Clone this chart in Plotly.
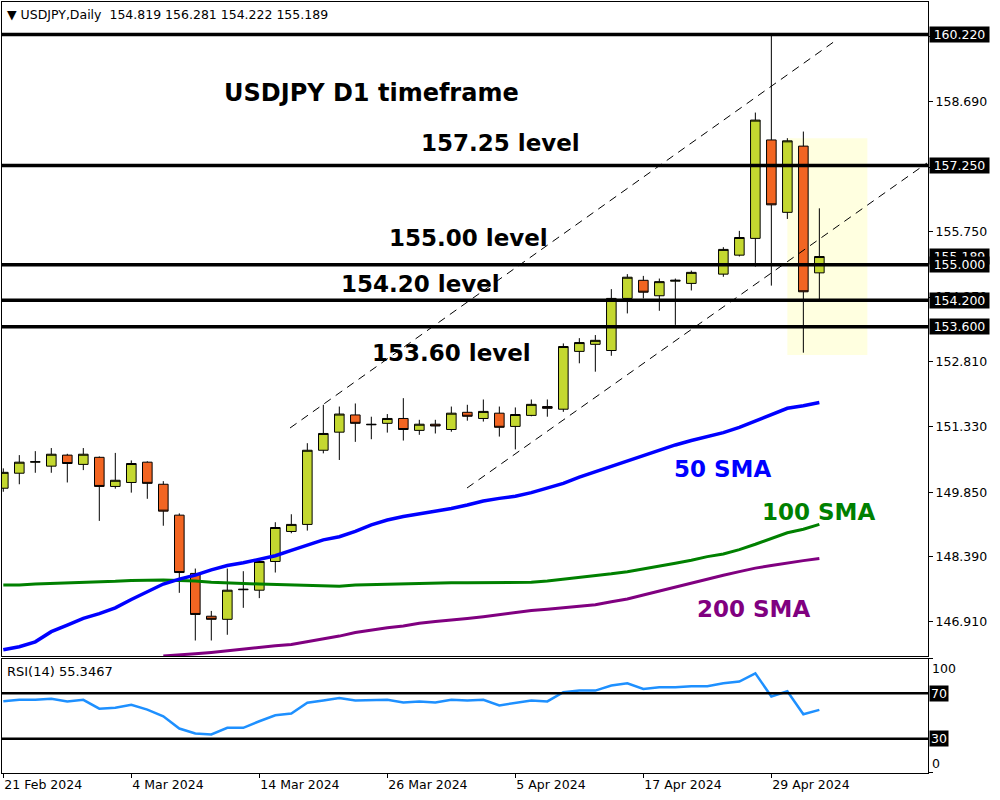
import datetime as dt
import plotly.graph_objects as go

# ---- daily bars (USDJPY) ----
dates = [
    "2024-02-21", "2024-02-22", "2024-02-23", "2024-02-26", "2024-02-27", "2024-02-28",
    "2024-02-29", "2024-03-01", "2024-03-04", "2024-03-05", "2024-03-06", "2024-03-07",
    "2024-03-08", "2024-03-11", "2024-03-12", "2024-03-13", "2024-03-14", "2024-03-15",
    "2024-03-18", "2024-03-19", "2024-03-20", "2024-03-21", "2024-03-22", "2024-03-25",
    "2024-03-26", "2024-03-27", "2024-03-28", "2024-03-29", "2024-04-01", "2024-04-02",
    "2024-04-03", "2024-04-04", "2024-04-05", "2024-04-08", "2024-04-09", "2024-04-10",
    "2024-04-11", "2024-04-12", "2024-04-15", "2024-04-16", "2024-04-17", "2024-04-18",
    "2024-04-19", "2024-04-22", "2024-04-23", "2024-04-24", "2024-04-25", "2024-04-26",
    "2024-04-29", "2024-04-30", "2024-05-01", "2024-05-02",
]
opens = [149.94, 150.28, 150.53, 150.44, 150.69, 150.48, 150.64, 149.98, 150.07, 150.53,
         150.03, 149.33, 148.01, 147.04, 146.97, 147.64, 147.63, 148.28, 148.96, 149.12,
         150.80, 151.21, 151.60, 151.39, 151.41, 151.52, 151.25, 151.39, 151.27, 151.66,
         151.52, 151.64, 151.34, 151.59, 151.79, 151.73, 153.04, 153.20, 153.06, 154.24,
         154.65, 154.30, 154.63, 154.58, None, 154.79, 155.22, 155.60, 157.83, 156.19,
         157.69, 154.819]
highs = [150.39, 150.69, 150.78, 150.85, 150.72, 150.85, 150.66, 150.74, 150.57, 150.55,
         150.10, 149.37, 148.12, 147.16, 148.12, 148.06, 148.35, 149.17, 149.35, 150.96,
         151.83, 151.79, 151.86, 151.56, 151.62, 151.98, 151.49, 151.49, 151.79, 151.83,
         151.95, 151.79, 151.77, 151.95, 151.95, 153.22, 153.34, 153.41, 154.45, 154.79,
         154.75, 154.69, 154.69, 154.87, None, 155.40, 155.77, 158.45, 160.22, 157.87,
         158.02, 156.281]
lows = [149.86, 150.03, 150.29, 150.29, 150.07, 150.35, 149.20, 149.93, 149.84, 149.70,
        149.09, 147.57, 146.49, 146.49, 146.62, 147.23, 147.45, 148.03, 148.92, 148.98,
        150.73, 150.58, 150.99, 151.05, 151.20, 151.02, 151.15, 151.18, 151.22, 151.47,
        151.45, 151.11, 150.82, 151.57, 151.56, 151.67, 152.77, 152.58, 152.94, 153.90,
        154.24, 153.96, 153.64, 154.42, None, 154.73, 155.19, 154.96, 154.53, 156.04,
        153.01, 154.222]
closes = [150.30, 150.53, 150.54, 150.71, 150.50, 150.71, 149.98, 150.12, 150.50, 150.05,
          149.42, 148.03, 147.08, 146.97, 147.63, 147.65, 148.28, 149.05, 149.12, 150.80,
          151.18, 151.62, 151.41, 151.38, 151.52, 151.27, 151.39, 151.35, 151.64, 151.57,
          151.68, 151.32, 151.61, 151.84, 151.75, 153.15, 153.24, 153.29, 154.24, 154.72,
          154.38, 154.62, 154.65, 154.83, None, 155.35, 155.62, 158.28, 156.36, 157.81,
          154.39, 155.189]

# ---- moving averages ----
sma50 = [146.28, 146.35, 146.46, 146.69, 146.84, 146.99, 147.10, 147.23, 147.42, 147.60,
         147.77, 147.88, 147.97, 148.09, 148.19, 148.25, 148.33, 148.41, 148.53, 148.65,
         148.77, 148.84, 148.96, 149.11, 149.22, 149.30, 149.36, 149.41, 149.48, 149.56,
         149.65, 149.71, 149.76, 149.84, 149.94, 150.05, 150.19, 150.31, 150.43, 150.56,
         150.69, 150.81, 150.92, 151.02, 151.11, 151.20, 151.32, 151.47, 151.62, 151.75,
         151.81, 151.88]
sma100 = [147.75, 147.75, 147.77, 147.78, 147.80, 147.80, 147.82, 147.83, 147.85, 147.86,
          147.86, 147.85, 147.84, 147.81, 147.79, 147.78, 147.77, 147.76, 147.75, 147.74,
          147.72, 147.72, 147.75, 147.76, 147.77, 147.78, 147.78, 147.80, 147.80, 147.80,
          147.80, 147.80, 147.80, 147.81, 147.84, 147.88, 147.91, 147.96, 148.00, 148.05,
          148.11, 148.18, 148.24, 148.31, 148.39, 148.45, 148.55, 148.67, 148.80, 148.93,
          149.01, 149.12]
sma200 = [None, None, None, None, None, None, None, None, None, None,
          146.14, 146.16, 146.19, 146.22, 146.26, 146.29, 146.33, 146.37, 146.40, 146.46,
          146.53, 146.59, 146.67, 146.73, 146.78, 146.82, 146.88, 146.92, 146.95, 146.99,
          147.03, 147.08, 147.13, 147.17, 147.20, 147.23, 147.27, 147.30, 147.37, 147.43,
          147.52, 147.61, 147.71, 147.80, 147.88, 147.97, 148.05, 148.13, 148.19, 148.25,
          148.30, 148.35]

# ---- RSI(14) ----
rsi14 = [63.0, 64.2, 64.2, 65.1, 62.8, 64.2, 56.4, 57.3, 59.9, 55.6,
         49.7, 39.0, 34.7, 33.8, 39.6, 39.6, 45.4, 50.6, 52.1, 61.6,
         63.6, 65.7, 63.6, 63.6, 64.2, 61.9, 62.8, 61.9, 64.2, 63.6,
         64.2, 59.3, 61.6, 63.6, 62.8, 70.9, 72.3, 72.3, 76.7, 78.7,
         73.8, 75.2, 75.2, 76.1, 76.1, 78.7, 80.2, 87.4, 67.1, 71.7,
         51.5, 55.3467]
rsi_levels = [70, 30]
rsi_scale_labels = [100, 0]

# ---- drawn objects ----
key_levels = [160.22, 157.25, 155.00, 154.20, 153.60]
price_ticks = [146.91, 148.39, 149.85, 151.33, 152.81, 154.27, 155.75, 157.21, 158.69, 160.17]
channel_upper = [(17.92, 151.305), (51.98, 160.072)]   # (bar, price)
channel_lower = [(28.98, 149.945), (57.73, 157.308)]
zone_bars = (49, 54)
zone_prices = (152.96, 157.87)

# text objects: (text, bar, price, colour, size)
chart_texts = [
    ("USDJPY D1 timeframe", 13.67, 158.898, "#000000", 24),
    ("157.25 level", 25.96, 157.766, "#000000", 23),
    ("155.00 level", 23.98, 155.616, "#000000", 23),
    ("154.20 level", 20.96, 154.562, "#000000", 23),
    ("153.60 level", 22.94, 152.997, "#000000", 23),
    ("50 SMA", 41.79, 150.382, "#0000FF", 23),
    ("100 SMA", 47.31, 149.408, "#008000", 23),
    ("200 SMA", 43.25, 147.211, "#800080", 23),
]

BULL = "#C4D830"
BEAR = "#F26522"
SMALL = dict(family="DejaVu Sans", size=12.5, color="black")

bars = list(range(len(dates)))
tick_step = 8
tick_bars = bars[::tick_step]
tick_labels = [dt.date.fromisoformat(dates[i]).strftime("%-d %b %Y") for i in tick_bars]

x_range = [-0.081, 57.79]

fig = go.Figure()

fig.add_trace(go.Candlestick(
    x=bars, open=opens, high=highs, low=lows, close=closes,
    increasing=dict(fillcolor=BULL, line=dict(color="black", width=1)),
    decreasing=dict(fillcolor=BEAR, line=dict(color="black", width=1)),
    whiskerwidth=0, showlegend=False, hoverinfo="skip",
    xaxis="x", yaxis="y",
))

for vals, col, w in [(sma100, "#008000", 3), (sma200, "#800080", 3), (sma50, "#0000FF", 3.5)]:
    fig.add_trace(go.Scatter(x=bars, y=vals, mode="lines", line=dict(color=col, width=w),
                             showlegend=False, hoverinfo="skip", xaxis="x", yaxis="y"))

fig.add_trace(go.Scatter(x=bars, y=rsi14, mode="lines", line=dict(color="#1E90FF", width=2.5),
                         showlegend=False, hoverinfo="skip", xaxis="x2", yaxis="y2"))

shapes = []
# highlighted zone behind the candles
shapes.append(dict(type="rect", xref="x", yref="y", x0=zone_bars[0], x1=zone_bars[1],
                   y0=zone_prices[0], y1=zone_prices[1], fillcolor="#FFFFE0",
                   line=dict(width=0), layer="below"))
# channel lines
for (b0, p0), (b1, p1) in [channel_upper, channel_lower]:
    shapes.append(dict(type="line", xref="x", yref="y", x0=b0, y0=p0, x1=b1, y1=p1,
                       line=dict(color="black", width=1, dash="8px,6px"), layer="above"))
# horizontal price levels
for lv in key_levels:
    shapes.append(dict(type="line", xref="x domain", yref="y", x0=0, x1=1, y0=lv, y1=lv,
                       line=dict(color="black", width=3.5), layer="above"))
# RSI reference levels
for lv in rsi_levels:
    shapes.append(dict(type="line", xref="x2 domain", yref="y2", x0=0, x1=1, y0=lv, y1=lv,
                       line=dict(color="black", width=2.5), layer="above"))

annotations = []
for text, b, p, col, size in chart_texts:
    annotations.append(dict(text=f"<b>{text}</b>", x=b, y=p, xref="x", yref="y",
                            xanchor="left", yanchor="middle", showarrow=False,
                            font=dict(family="DejaVu Sans", size=size, color=col)))

# price tags on the right scale: last close first, level tags drawn over it
tag_values = [closes[-1]] + key_levels
for v in tag_values:
    annotations.append(dict(text=f"{v:.3f}", x=1, y=v, xref="paper", yref="y",
                            xanchor="left", yanchor="middle", xshift=1, showarrow=False,
                            bgcolor="black", font=dict(family="DejaVu Sans", size=12.5, color="white"),
                            width=57, height=13, borderpad=1, align="center"))
for lv in rsi_levels:
    annotations.append(dict(text=str(lv), x=1, y=lv, xref="paper", yref="y2",
                            xanchor="left", yanchor="middle", xshift=1, showarrow=False,
                            bgcolor="black", font=dict(family="DejaVu Sans", size=12.5, color="white"),
                            height=13, borderpad=1))
for lv, shift in zip(rsi_scale_labels, [-10, 9]):
    annotations.append(dict(text=str(lv), x=1, y=lv, xref="paper", yref="y2",
                            xanchor="left", yanchor="middle", xshift=2, yshift=shift,
                            showarrow=False, font=SMALL))

# window headers
header = (f"▼ USDJPY,Daily  {opens[-1]:.3f} {highs[-1]:.3f} "
          f"{lows[-1]:.3f} {closes[-1]:.3f}")
annotations.append(dict(text=header, x=0.003, y=1, xref="paper", yref="paper",
                        xanchor="left", yanchor="top", yshift=-3, showarrow=False, font=SMALL))
annotations.append(dict(text=f"RSI(14) {rsi14[-1]:.4f}", x=0.003, y=0.14786, xref="paper",
                        yref="paper", xanchor="left", yanchor="top", yshift=-3,
                        showarrow=False, font=dict(family="DejaVu Sans", size=13, color="black")))

axis_common = dict(showline=True, mirror=True, linecolor="black", linewidth=1,
                   showgrid=False, zeroline=False)

fig.update_layout(
    width=1000, height=800,
    margin=dict(l=2, r=72, t=2, b=27, pad=0),
    paper_bgcolor="white", plot_bgcolor="white",
    hovermode=False, showlegend=False,
    boxgap=0.4, boxgroupgap=0,
    shapes=shapes, annotations=annotations,
    xaxis=dict(domain=[0, 1], anchor="y", range=x_range, showticklabels=False, ticks="",
               rangeslider=dict(visible=False), **axis_common),
    yaxis=dict(domain=[0.15175, 1], anchor="x", side="right",
               range=[146.139, 160.955], tickvals=price_ticks,
               ticktext=[f"{v:.3f}" for v in price_ticks],
               ticks="outside", ticklen=4, tickcolor="black", tickfont=SMALL, **axis_common),
    xaxis2=dict(domain=[0, 1], anchor="y2", range=x_range, tickvals=tick_bars,
                ticktext=tick_labels, ticks="outside", ticklen=4, tickcolor="black",
                ticklabelposition="outside right", tickfont=SMALL, **axis_common),
    yaxis2=dict(domain=[0, 0.14786], anchor="x2", side="right", range=[0, 100],
                tickvals=rsi_scale_labels, showticklabels=False, ticks="outside", ticklen=4,
                tickcolor="black", **axis_common),
)

fig.write_html("out.html")
